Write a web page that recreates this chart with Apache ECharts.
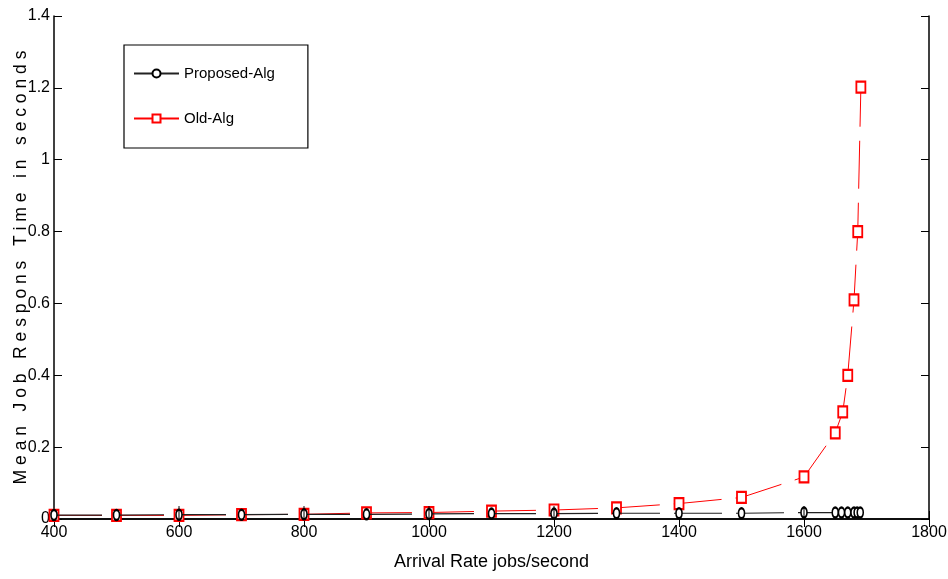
<!DOCTYPE html>
<html><head><meta charset="utf-8">
<script src="https://cdn.jsdelivr.net/npm/echarts@6/dist/echarts.min.js"></script>
<style>html,body{margin:0;padding:0;background:#fff}#c{width:948px;height:579px}</style>
</head><body><div id="c"></div>
<script>
const proposedX = [400,500,600,700,800,900,1000,1100,1200,1300,1400,1500,1600,1650,1660,1670,1680,1685,1690];
const proposedY = [0.011,0.011,0.012,0.012,0.013,0.013,0.014,0.015,0.015,0.016,0.016,0.016,0.018,0.018,0.018,0.018,0.018,0.018,0.018];
const oldX = [400,500,600,700,800,900,1000,1100,1200,1300,1400,1500,1600,1650,1662,1670,1680,1686,1691];
const oldY = [0.010,0.010,0.010,0.012,0.013,0.017,0.018,0.022,0.025,0.031,0.043,0.060,0.117,0.240,0.298,0.400,0.610,0.800,1.202];
const errX = [600,800,1000,1200,1600];
const errLow = [0.0,0.0,0.0,0.0,0.0];
const errHigh = [0.036,0.036,0.036,0.036,0.036];
const xTicks = [400,600,800,1000,1200,1400,1600,1800];
const yTicks = [0,0.2,0.4,0.6,0.8,1,1.2,1.4];

const font = '"Liberation Sans Narrow", "Liberation Sans", sans-serif';
const chart = echarts.init(document.getElementById('c'));
const pair = (xs, ys) => xs.map((x, i) => [x, ys[i]]);
const tickStyle = {show: true, inside: true, length: 8, lineStyle: {color: '#000'}};
chart.setOption({
  animation: false,
  grid: {left: 54, right: 19, top: 16, bottom: 60, show: false, containLabel: false, outerBoundsMode: 'none'},
  legend: {
    orient: 'vertical', left: 124, top: 45, itemWidth: 45, itemHeight: 10, itemGap: 30,
    padding: [21, 33, 22, 9], borderColor: '#000', borderWidth: 1.2, backgroundColor: '#fff',
    textStyle: {fontFamily: font, fontSize: 15, color: '#000'},
    data: ['Proposed-Alg', 'Old-Alg']
  },
  xAxis: [{
    type: 'value', min: xTicks[0], max: xTicks[xTicks.length - 1], interval: 200,
    name: 'Arrival Rate jobs/second', nameLocation: 'middle', nameGap: 34, nameMoveOverlap: false,
    nameTextStyle: {fontFamily: font, fontSize: 18, color: '#000'},
    axisLine: {show: true, onZero: false, lineStyle: {color: '#000', width: 1.5}},
    axisTick: tickStyle, splitLine: {show: false},
    axisLabel: {fontFamily: font, fontSize: 16, color: '#000', margin: 6, formatter: v => String(v)}
  }, {
    type: 'value', position: 'top', min: xTicks[0], max: xTicks[xTicks.length - 1], interval: 200,
    axisLine: {show: true, lineStyle: {color: '#000', width: 1.5}},
    axisTick: tickStyle, axisLabel: {show: false}, splitLine: {show: false}
  }],
  yAxis: [{
    type: 'value', min: 0, max: 1.4, interval: 0.2,
    name: 'M e a n   J o b   R e s p o n s   T i m e   i n   s e c o n d s',
    nameLocation: 'middle', nameGap: 24, nameMoveOverlap: false,
    nameTextStyle: {fontFamily: font, fontSize: 17.5, color: '#000'},
    axisLine: {show: true, onZero: false, lineStyle: {color: '#000', width: 1.5}},
    axisTick: tickStyle, splitLine: {show: false},
    axisLabel: {fontFamily: font, fontSize: 16, color: '#000', margin: 4,
      formatter: v => String(Math.round(v * 10) / 10)}
  }, {
    type: 'value', position: 'right', min: 0, max: 1.4, interval: 0.2,
    axisLine: {show: true, lineStyle: {color: '#000', width: 1.5}},
    axisTick: tickStyle, axisLabel: {show: false}, splitLine: {show: false}
  }],
  series: [{
    name: 'Proposed-Alg', type: 'line', data: pair(proposedX, proposedY),
    symbol: 'emptyCircle', symbolSize: [6, 10], showAllSymbol: true,
    itemStyle: {color: '#000', borderWidth: 0.9},
    lineStyle: {color: '#222', width: 1.2, type: [48, 14]}, z: 3
  }, {
    name: 'Old-Alg', type: 'line', data: pair(oldX, oldY),
    symbol: 'emptyRect', symbolSize: [9, 11], showAllSymbol: true,
    itemStyle: {color: '#ff0000', borderWidth: 0.8},
    lineStyle: {color: '#ff0000', width: 1, type: [48, 14]}, z: 2
  }, {
    type: 'custom', silent: true, z: 4,
    data: errX.map((x, i) => [x, errLow[i], errHigh[i]]),
    renderItem: (params, api) => {
      const a = api.coord([api.value(0), api.value(1)]);
      const b = api.coord([api.value(0), api.value(2)]);
      return {type: 'line', shape: {x1: a[0], y1: a[1], x2: b[0], y2: b[1]},
        style: {stroke: '#000', lineWidth: 1}};
    }
  }]
});
</script></body></html>
